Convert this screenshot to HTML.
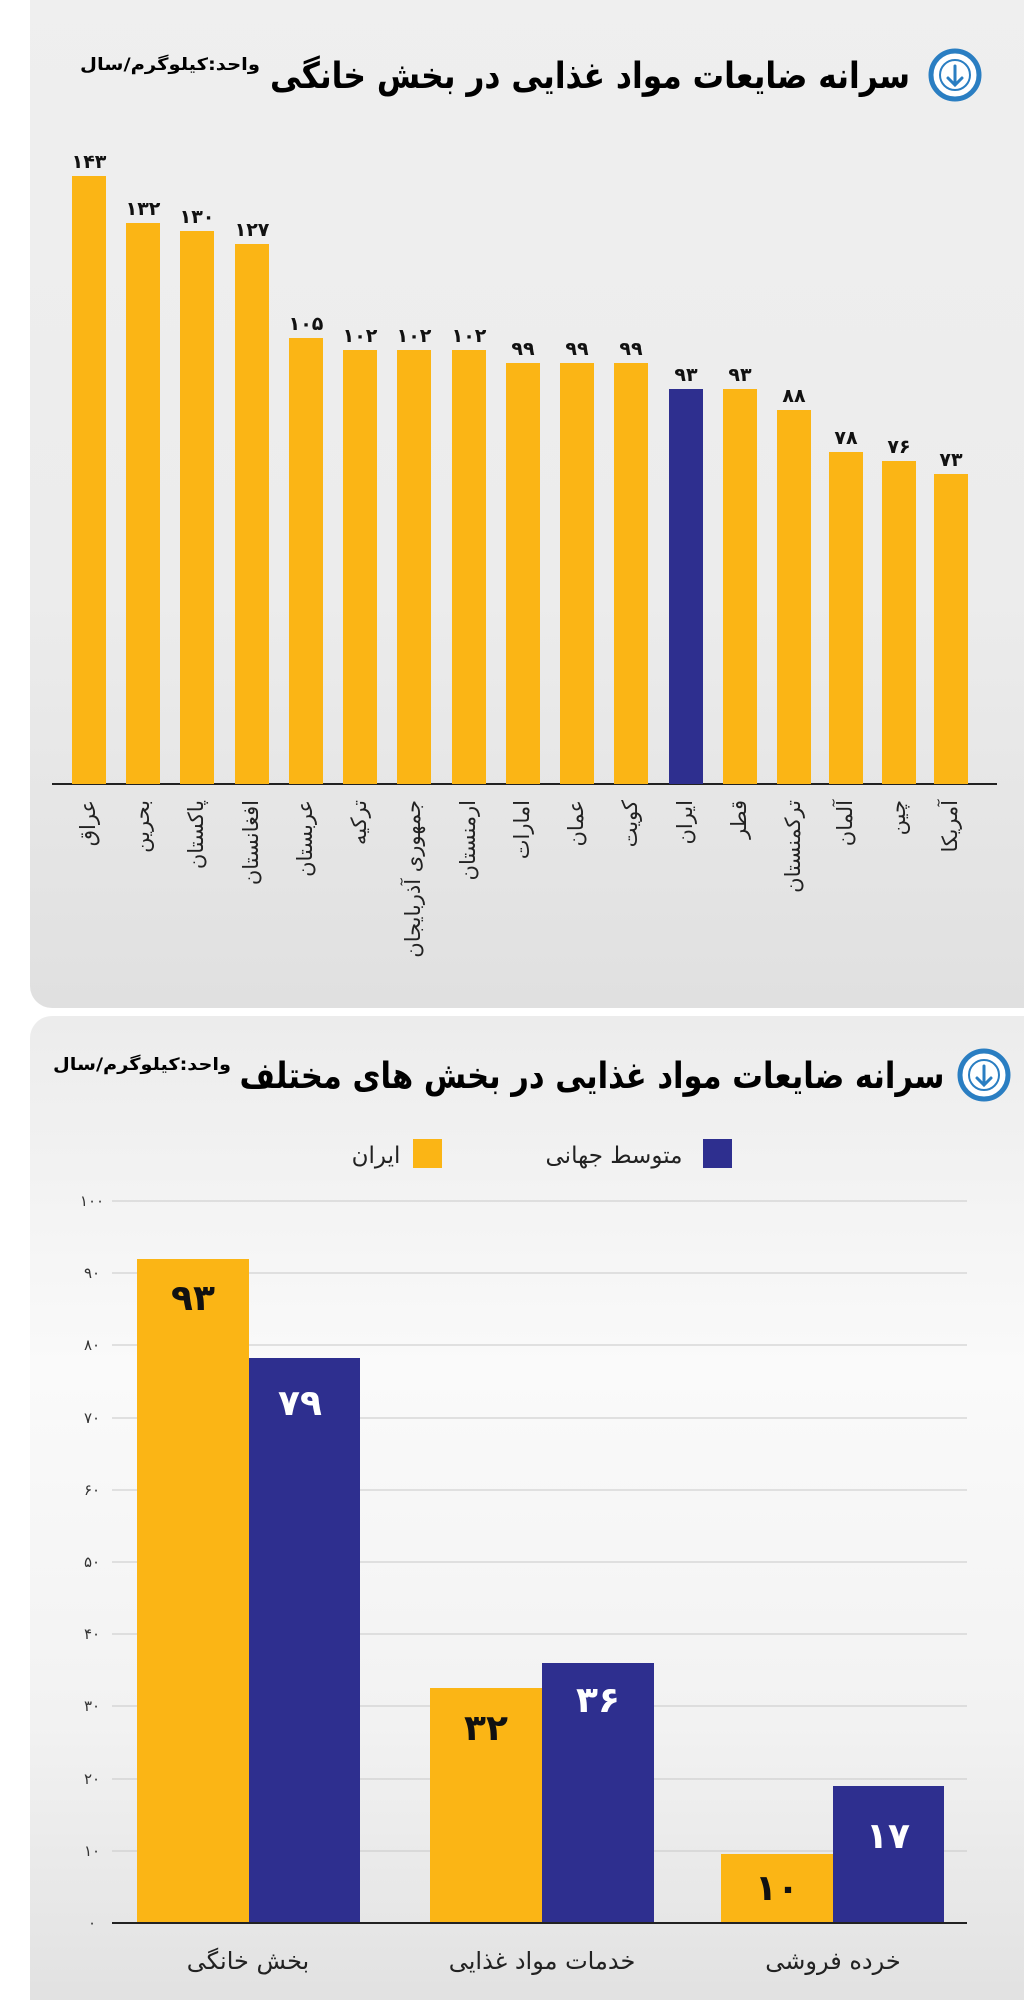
<!DOCTYPE html>
<html><head><meta charset="utf-8"><style>
html,body{margin:0;padding:0;background:#fff;}
svg{display:block;font-family:"DejaVu Sans","Liberation Sans",sans-serif;}
</style></head><body>
<svg width="1024" height="2000" viewBox="0 0 1024 2000" xmlns="http://www.w3.org/2000/svg">
<defs>
<linearGradient id="g1" x1="0" y1="0" x2="0" y2="1"><stop offset="0" stop-color="#efefef"/><stop offset="0.6" stop-color="#ececec"/><stop offset="1" stop-color="#e0e0e0"/></linearGradient>
<linearGradient id="g2" x1="0" y1="0" x2="0" y2="1"><stop offset="0" stop-color="#ececec"/><stop offset="0.35" stop-color="#fafafa"/><stop offset="0.7" stop-color="#f2f2f2"/><stop offset="1" stop-color="#e0e0e0"/></linearGradient>
</defs>
<rect x="30" y="-30" width="1020" height="1038" rx="22" fill="url(#g1)"/>
<rect x="30" y="1016" width="1020" height="1010" rx="22" fill="url(#g2)"/>

<!-- Title 1 -->
<circle cx="955" cy="75" r="24" fill="#fff" stroke="#2a7ec2" stroke-width="5"/>
<circle cx="955" cy="75" r="15" fill="#fff" stroke="#2a7ec2" stroke-width="2"/>
<path d="M955 66 V84 M948 78 L955 85 L962 78" stroke="#2a7ec2" stroke-width="3" fill="none" stroke-linecap="round"/>
<text x="590" y="88" font-size="36" font-weight="bold" text-anchor="middle" direction="rtl" textLength="640" lengthAdjust="spacingAndGlyphs">سرانه ضایعات مواد غذایی در بخش خانگی</text>
<text x="170" y="70" font-size="17" font-weight="bold" text-anchor="middle" direction="rtl" textLength="180" lengthAdjust="spacingAndGlyphs">واحد:کیلوگرم/سال</text>

<line x1="52" y1="784" x2="997" y2="784" stroke="#222" stroke-width="2"/>
<g font-size="19" font-weight="bold" text-anchor="middle" fill="#111">
<rect x="72" y="176" width="34" height="608" fill="#fbb515"/><text x="89" y="168">۱۴۳</text>
<rect x="126" y="223" width="34" height="561" fill="#fbb515"/><text x="143" y="215">۱۳۲</text>
<rect x="180" y="231" width="34" height="553" fill="#fbb515"/><text x="197" y="223">۱۳۰</text>
<rect x="235" y="244" width="34" height="540" fill="#fbb515"/><text x="252" y="236">۱۲۷</text>
<rect x="289" y="338" width="34" height="446" fill="#fbb515"/><text x="306" y="330">۱۰۵</text>
<rect x="343" y="350" width="34" height="434" fill="#fbb515"/><text x="360" y="342">۱۰۲</text>
<rect x="397" y="350" width="34" height="434" fill="#fbb515"/><text x="414" y="342">۱۰۲</text>
<rect x="452" y="350" width="34" height="434" fill="#fbb515"/><text x="469" y="342">۱۰۲</text>
<rect x="506" y="363" width="34" height="421" fill="#fbb515"/><text x="523" y="355">۹۹</text>
<rect x="560" y="363" width="34" height="421" fill="#fbb515"/><text x="577" y="355">۹۹</text>
<rect x="614" y="363" width="34" height="421" fill="#fbb515"/><text x="631" y="355">۹۹</text>
<rect x="669" y="389" width="34" height="395" fill="#2e2f8f"/><text x="686" y="381">۹۳</text>
<rect x="723" y="389" width="34" height="395" fill="#fbb515"/><text x="740" y="381">۹۳</text>
<rect x="777" y="410" width="34" height="374" fill="#fbb515"/><text x="794" y="402">۸۸</text>
<rect x="829" y="452" width="34" height="332" fill="#fbb515"/><text x="846" y="444">۷۸</text>
<rect x="882" y="461" width="34" height="323" fill="#fbb515"/><text x="899" y="453">۷۶</text>
<rect x="934" y="474" width="34" height="310" fill="#fbb515"/><text x="951" y="466">۷۳</text>
</g>
<g font-size="21" fill="#222" direction="rtl" text-anchor="start" dominant-baseline="middle">
<text transform="translate(89,800) rotate(-90)">عراق</text>
<text transform="translate(143,800) rotate(-90)">بحرین</text>
<text transform="translate(197,800) rotate(-90)">پاکستان</text>
<text transform="translate(252,800) rotate(-90)">افغانستان</text>
<text transform="translate(306,800) rotate(-90)">عربستان</text>
<text transform="translate(360,800) rotate(-90)">ترکیه</text>
<text transform="translate(414,800) rotate(-90)">جمهوری آذربایجان</text>
<text transform="translate(469,800) rotate(-90)">ارمنستان</text>
<text transform="translate(523,800) rotate(-90)">امارات</text>
<text transform="translate(577,800) rotate(-90)">عمان</text>
<text transform="translate(631,800) rotate(-90)">کویت</text>
<text transform="translate(686,800) rotate(-90)">ایران</text>
<text transform="translate(740,800) rotate(-90)">قطر</text>
<text transform="translate(794,800) rotate(-90)">ترکمنستان</text>
<text transform="translate(846,800) rotate(-90)">آلمان</text>
<text transform="translate(899,800) rotate(-90)">چین</text>
<text transform="translate(951,800) rotate(-90)">آمریکا</text>
</g>

<!-- Title 2 -->
<circle cx="984" cy="1075" r="24" fill="#fff" stroke="#2a7ec2" stroke-width="5"/>
<circle cx="984" cy="1075" r="15" fill="#fff" stroke="#2a7ec2" stroke-width="2"/>
<path d="M984 1066 V1084 M977 1078 L984 1085 L991 1078" stroke="#2a7ec2" stroke-width="3" fill="none" stroke-linecap="round"/>
<text x="592" y="1088" font-size="36" font-weight="bold" text-anchor="middle" direction="rtl" textLength="705" lengthAdjust="spacingAndGlyphs">سرانه ضایعات مواد غذایی در بخش های مختلف</text>
<text x="142" y="1070" font-size="17" font-weight="bold" text-anchor="middle" direction="rtl" textLength="178" lengthAdjust="spacingAndGlyphs">واحد:کیلوگرم/سال</text>

<!-- legend -->
<rect x="703" y="1139" width="29" height="29" fill="#2e2f8f"/>
<text x="614" y="1163" font-size="23" text-anchor="middle" fill="#222" direction="rtl">متوسط جهانی</text>
<rect x="413" y="1139" width="29" height="29" fill="#fbb515"/>
<text x="376" y="1163" font-size="23" text-anchor="middle" fill="#222" direction="rtl">ایران</text>

<!-- grid -->
<g stroke="#c8c8c8" stroke-width="1">
<line x1="112" y1="1201" x2="967" y2="1201"/><line x1="112" y1="1273" x2="967" y2="1273"/>
<line x1="112" y1="1345" x2="967" y2="1345"/><line x1="112" y1="1418" x2="967" y2="1418"/>
<line x1="112" y1="1490" x2="967" y2="1490"/><line x1="112" y1="1562" x2="967" y2="1562"/>
<line x1="112" y1="1634" x2="967" y2="1634"/><line x1="112" y1="1706" x2="967" y2="1706"/>
<line x1="112" y1="1779" x2="967" y2="1779"/><line x1="112" y1="1851" x2="967" y2="1851"/>
</g>
<g font-size="15" fill="#333" text-anchor="middle">
<text x="92" y="1206">۱۰۰</text><text x="92" y="1278">۹۰</text><text x="92" y="1350">۸۰</text>
<text x="92" y="1423">۷۰</text><text x="92" y="1495">۶۰</text><text x="92" y="1567">۵۰</text>
<text x="92" y="1639">۴۰</text><text x="92" y="1711">۳۰</text><text x="92" y="1784">۲۰</text>
<text x="92" y="1856">۱۰</text><text x="92" y="1928">۰</text>
</g>
<rect x="137" y="1259" width="112" height="664" fill="#fbb515"/>
<rect x="249" y="1358" width="111" height="565" fill="#2e2f8f"/>
<rect x="430" y="1688" width="112" height="235" fill="#fbb515"/>
<rect x="542" y="1663" width="112" height="260" fill="#2e2f8f"/>
<rect x="721" y="1854" width="112" height="69" fill="#fbb515"/>
<rect x="833" y="1786" width="111" height="137" fill="#2e2f8f"/>
<line x1="112" y1="1923" x2="967" y2="1923" stroke="#222" stroke-width="2"/>
<g font-size="36" font-weight="bold" text-anchor="middle">
<text x="193" y="1310" fill="#111">۹۳</text>
<text x="300" y="1415" fill="#fff">۷۹</text>
<text x="486" y="1740" fill="#111">۳۲</text>
<text x="598" y="1712" fill="#fff">۳۶</text>
<text x="777" y="1900" fill="#111">۱۰</text>
<text x="888" y="1848" fill="#fff">۱۷</text>
</g>
<g font-size="24" fill="#222" text-anchor="middle" direction="rtl">
<text x="248" y="1969">بخش خانگی</text>
<text x="542" y="1969">خدمات مواد غذایی</text>
<text x="833" y="1969">خرده فروشی</text>
</g>
</svg>
</body></html>
